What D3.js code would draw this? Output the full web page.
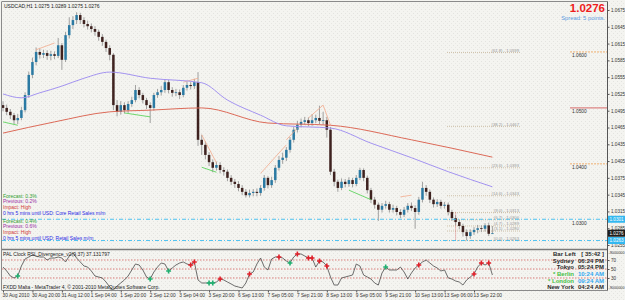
<!DOCTYPE html>
<html>
<head>
<meta charset="utf-8">
<script src="https://d3js.org/d3.v7.min.js"></script>
<style>
  body { margin: 0; background: #f4f4f0; }
  svg text { font-family: "Liberation Sans", Arial, sans-serif; }
</style>
</head>
<body>
<div id="chart"></div>
<script>
// ---- data (USDCAD, 2-hour steps) ----
const chartTitle = "USDCAD,H1  1.0275 1.0289 1.0275 1.0276"
const lastPrice = "1.0276"
const spreadText = "Spread: 5 points."

const timeLabels = ["30 Aug 2010", "30 Aug 20:00", "31 Aug 12:00", "1 Sep 04:00", "1 Sep 20:00",
  "2 Sep 12:00", "3 Sep 04:00", "3 Sep 20:00", "6 Sep 13:00", "7 Sep 05:00", "7 Sep 21:00",
  "8 Sep 13:00", "9 Sep 05:00", "9 Sep 21:00", "10 Sep 13:00", "13 Sep 06:00", "13 Sep 22:00"]
const barsPerLabel = 8

const firstOpen = 1.0505
const closes = [
  1.0500, 1.0493, 1.0487, 1.0478, 1.0482, 1.0496, 1.0523, 1.0559, 1.0582, 1.0600,
  1.0595, 1.0598, 1.0593, 1.0596, 1.0593, 1.0612, 1.0586, 1.0630, 1.0648, 1.0657,
  1.0666, 1.0657, 1.0650, 1.0646, 1.0641, 1.0636, 1.0627, 1.0618, 1.0607, 1.0595,
  1.0505, 1.0493, 1.0505, 1.0496, 1.0507, 1.0514, 1.0532, 1.0523, 1.0514, 1.0505,
  1.0500, 1.0523, 1.0528, 1.0532, 1.0546, 1.0532, 1.0527, 1.0528, 1.0523, 1.0536,
  1.0541, 1.0539, 1.0546, 1.0443, 1.0434, 1.0416, 1.0403, 1.0393, 1.0398, 1.0389,
  1.0386, 1.0375, 1.0368, 1.0364, 1.0357, 1.0350, 1.0344, 1.0348, 1.0350, 1.0348,
  1.0357, 1.0375, 1.0362, 1.0371, 1.0393, 1.0407, 1.0411, 1.0425, 1.0443, 1.0461,
  1.0470, 1.0475, 1.0478, 1.0473, 1.0478, 1.0482, 1.0477, 1.0478, 1.0461, 1.0386,
  1.0368, 1.0357, 1.0368, 1.0364, 1.0371, 1.0364, 1.0375, 1.0389, 1.0375, 1.0353,
  1.0336, 1.0327, 1.0318, 1.0325, 1.0328, 1.0318, 1.0321, 1.0314, 1.0309, 1.0318,
  1.0325, 1.0321, 1.0314, 1.0336, 1.0357, 1.0350, 1.0336, 1.0328, 1.0332, 1.0325,
  1.0327, 1.0314, 1.0303, 1.0296, 1.0289, 1.0278, 1.0271, 1.0278, 1.0282, 1.0285,
  1.0284, 1.0290, 1.0275, 1.0276]
const highs = [
  1.0512, 1.0506, 1.0498, 1.0491, 1.0489, 1.0502, 1.0528, 1.0565, 1.0590, 1.0608,
  1.0606, 1.0604, 1.0603, 1.0602, 1.0601, 1.0625, 1.0616, 1.0636, 1.0662, 1.0664,
  1.0671, 1.0670, 1.0662, 1.0656, 1.0651, 1.0646, 1.0640, 1.0632, 1.0622, 1.0612,
  1.0598, 1.0514, 1.0512, 1.0510, 1.0512, 1.0520, 1.0541, 1.0537, 1.0527, 1.0518,
  1.0510, 1.0527, 1.0534, 1.0539, 1.0550, 1.0550, 1.0537, 1.0534, 1.0533, 1.0541,
  1.0547, 1.0546, 1.0552, 1.0564, 1.0452, 1.0440, 1.0421, 1.0408, 1.0404, 1.0403,
  1.0394, 1.0390, 1.0380, 1.0373, 1.0369, 1.0362, 1.0355, 1.0354, 1.0355, 1.0356,
  1.0362, 1.0380, 1.0378, 1.0377, 1.0398, 1.0414, 1.0420, 1.0430, 1.0448, 1.0466,
  1.0477, 1.0481, 1.0484, 1.0483, 1.0489, 1.0488, 1.0504, 1.0493, 1.0484, 1.0466,
  1.0391, 1.0372, 1.0374, 1.0373, 1.0376, 1.0375, 1.0380, 1.0393, 1.0392, 1.0379,
  1.0357, 1.0341, 1.0331, 1.0330, 1.0334, 1.0332, 1.0327, 1.0325, 1.0319, 1.0323,
  1.0330, 1.0331, 1.0326, 1.0341, 1.0368, 1.0362, 1.0354, 1.0340, 1.0337, 1.0336,
  1.0332, 1.0331, 1.0318, 1.0308, 1.0300, 1.0293, 1.0283, 1.0283, 1.0287, 1.0291,
  1.0290, 1.0294, 1.0295, 1.0289]
const lows = [
  1.0494, 1.0487, 1.0480, 1.0471, 1.0471, 1.0478, 1.0492, 1.0518, 1.0553, 1.0576,
  1.0588, 1.0589, 1.0586, 1.0585, 1.0587, 1.0589, 1.0568, 1.0582, 1.0624, 1.0641,
  1.0650, 1.0650, 1.0644, 1.0640, 1.0635, 1.0629, 1.0620, 1.0611, 1.0600, 1.0585,
  1.0496, 1.0485, 1.0488, 1.0490, 1.0491, 1.0502, 1.0510, 1.0517, 1.0508, 1.0498,
  1.0473, 1.0495, 1.0518, 1.0522, 1.0527, 1.0526, 1.0520, 1.0521, 1.0516, 1.0519,
  1.0531, 1.0533, 1.0534, 1.0432, 1.0416, 1.0408, 1.0396, 1.0385, 1.0388, 1.0383,
  1.0379, 1.0369, 1.0362, 1.0357, 1.0351, 1.0344, 1.0340, 1.0340, 1.0342, 1.0342,
  1.0343, 1.0352, 1.0356, 1.0357, 1.0366, 1.0388, 1.0400, 1.0405, 1.0420, 1.0438,
  1.0456, 1.0465, 1.0470, 1.0467, 1.0468, 1.0473, 1.0471, 1.0470, 1.0447, 1.0380,
  1.0360, 1.0350, 1.0353, 1.0358, 1.0359, 1.0358, 1.0360, 1.0371, 1.0369, 1.0347,
  1.0330, 1.0320, 1.0298, 1.0313, 1.0320, 1.0313, 1.0313, 1.0308, 1.0303, 1.0305,
  1.0313, 1.0316, 1.0284, 1.0309, 1.0331, 1.0343, 1.0330, 1.0322, 1.0323, 1.0320,
  1.0320, 1.0308, 1.0298, 1.0290, 1.0283, 1.0270, 1.0263, 1.0266, 1.0273, 1.0276,
  1.0278, 1.0279, 1.0271, 1.0275]

// moving averages, read at a handful of bars
const maPurpleBars = [0, 5, 10, 16, 22, 29, 40, 54, 61, 70, 77, 89, 100, 111, 121, 133]
const maPurple = [1.0525, 1.0518, 1.0527, 1.0539, 1.0553, 1.0564, 1.0553, 1.0545, 1.0514,
  1.0487, 1.0468, 1.0464, 1.0437, 1.0411, 1.0386, 1.0359]
const maRedBars = [0, 14, 29, 40, 54, 72, 89, 111, 133]
const maRed = [1.0455, 1.0475, 1.0493, 1.0496, 1.0500, 1.0473, 1.0469, 1.0443, 1.0412]

// divergence / zigzag strokes: [bar1, price1, bar2, price2]
const highStrokes = [[9, 1.0604, 14, 1.0616], [49, 1.0546, 53, 1.0553], [54, 1.0452, 58, 1.0402],
  [70, 1.0383, 77, 1.0434], [77, 1.0443, 80, 1.0464], [83, 1.0482, 87, 1.0505],
  [87, 1.0505, 89, 1.0469], [108, 1.0341, 111, 1.0344]]
const lowStrokes = [[0, 1.0475, 4, 1.0469], [33, 1.0491, 40, 1.0484], [54, 1.0394, 58, 1.0385],
  [94, 1.0353, 100, 1.0336]]

// fibonacci levels
const fibNames = ["61.8", "38.2", "23.6", "14.6", "9.0", "6.7", "4.7", "3.1", "0.0"]
const fibPrices = [1.0599, 1.0467, 1.0393, 1.0343, 1.0313, 1.0300, 1.0289, 1.0280, 1.0263]

// horizontal price lines on the right
const roundLevels = [1.0600, 1.0500, 1.0400, 1.0300]
const dayLevels = [1.0301, 1.0263]

const newsLines = [
  ["Forecast: 0.3%", "forecast"], ["Previous: 0.2%", "previous"], ["Impact: High", "impact"],
  ["0 hrs 5 mins until USD: Core Retail Sales m/m", "until"],
  ["Forecast: 0.4%", "forecast"], ["Previous: 0.6%", "previous"], ["Impact: High", "impact"],
  ["0 hrs 5 mins until USD: Retail Sales m/m", "until"]]

// RSI divergence indicator
const rsiTitle = "PAL Clock    RSI_Divergence_v2(9,37) 37.131797"
const rsi = [
  54.4, 45.6, 34.4, 30.0, 34.4, 56.7, 72.2, 76.7, 81.1, 78.9,
  76.7, 76.7, 70.0, 74.4, 74.4, 76.7, 74.4, 65.6, 78.9, 85.6,
  74.4, 65.6, 56.7, 54.4, 45.6, 34.4, 32.2, 30.0, 21.1, 10.0,
  3.3, 12.2, 18.9, 25.6, 34.4, 47.8, 61.1, 58.9, 47.8, 32.2,
  27.8, 43.3, 54.4, 63.3, 61.1, 45.6, 52.2, 58.9, 63.3, 65.6,
  61.1, 58.9, 65.6, 25.6, 18.9, 18.9, 18.9, 18.9, 21.1, 27.8,
  25.6, 21.1, 16.7, 12.2, 10.0, 7.8, 18.9, 38.9, 43.3, 61.1,
  74.4, 54.4, 47.8, 72.2, 76.7, 76.7, 74.4, 67.8, 63.3, 76.7,
  83.3, 83.3, 78.9, 74.4, 74.4, 54.4, 67.8, 65.6, 56.7, 32.2,
  14.4, 14.4, 30.0, 32.2, 34.4, 36.7, 61.1, 56.7, 36.7, 32.2,
  27.8, 18.9, 14.4, 41.1, 54.4, 47.8, 47.8, 47.8, 54.4, 43.3,
  27.8, 41.1, 52.2, 58.9, 65.6, 70.0, 63.3, 56.7, 52.2, 45.6,
  47.8, 30.0, 27.8, 23.3, 21.1, 14.4, 25.6, 32.2, 38.9, 54.4,
  63.3, 58.9, 63.3, 36.7]
const rsiLevels = [70, 50, 30]
const rsiScaleText = "-9000000"
const rsiTops = [51, 52, 59, 67, 75, 80, 83, 84, 86, 88, 113, 128, 130, 132]
const rsiBottoms = [4, 40, 45, 56, 57, 78, 104]

const clockNames = ["Bar Left", "Sydney", "Tokyo", "* Berlin", "* London", "New York"]
const clockTimes = ["[ 35:42 ]", "06:24 PM", "05:24 PM", "10:24 AM", "09:24 AM", "04:24 AM"]
const footer = "FXDD Malta - MetaTrader 4, \u00a9 2001-2010 MetaQuotes Software Corp."

// ---- layout ----
const W = 625, H = 300
const axisX = 607.5
const mainTop = 2, mainBottom = 249.5, indBottom = 290.5

const svg = d3.select("#chart").append("svg").attr("width", W).attr("height", H)
const defs = svg.append("defs")
const pat = defs.append("pattern").attr("id", "dots").attr("width", 4).attr("height", 4)
                .attr("patternUnits", "userSpaceOnUse")
pat.append("rect").attr("width", 4).attr("height", 4).attr("fill", "#f4f4f0")
pat.append("rect").attr("x", 1).attr("y", 1).attr("width", 1).attr("height", 1).attr("fill", "#e3e3df")
pat.append("rect").attr("x", 3).attr("y", 3).attr("width", 1).attr("height", 1).attr("fill", "#e7e7e3")
svg.append("rect").attr("width", W).attr("height", H).attr("fill", "url(#dots)")

defs.append("clipPath").attr("id", "clipMain").append("rect")
    .attr("x", 2).attr("y", mainTop).attr("width", axisX - 2).attr("height", mainBottom - mainTop)
defs.append("clipPath").attr("id", "clipInd").append("rect")
    .attr("x", 2).attr("y", mainBottom + 1).attr("width", axisX - 2).attr("height", indBottom - mainBottom - 1)

const x = d3.scaleLinear().domain([0, 133]).range([3, 492.4])
const y = d3.scaleLinear().domain([1.0255, 1.0675]).range([245, 10])
const yR = d3.scaleLinear().domain([0, 100]).range([291.5, 246.5])

const main = svg.append("g").attr("clip-path", "url(#clipMain)")

// fibonacci levels
const fibX0 = 447, fibX1 = 520
fibPrices.forEach((p, k) => {
    main.append("line").attr("x1", fibX0).attr("x2", fibX1).attr("y1", y(p)).attr("y2", y(p))
        .attr("stroke", "#c8b89a").attr("stroke-width", 0.8).attr("stroke-dasharray", "1,1")
    main.append("text").attr("x", fibX1 - 1).attr("y", y(p) - 0.8).attr("text-anchor", "end")
        .attr("font-size", 4.2).attr("fill", "#9a9a9a")
        .text("(" + fibNames[k] + ") - " + p.toFixed(4))
})
main.append("line").attr("x1", x(123)).attr("x2", x(123)).attr("y1", y(fibPrices[4])).attr("y2", y(1.0263))
    .attr("stroke", "#d05050").attr("stroke-width", 0.7).attr("stroke-dasharray", "1,1")

// round number lines at the right edge
const roundStyle = ["#f0a050", "#d04848", "#f0a050", "none"]
roundLevels.forEach((p, k) => {
    main.append("line").attr("x1", 570).attr("x2", axisX).attr("y1", y(p)).attr("y2", y(p))
        .attr("stroke", roundStyle[k]).attr("stroke-width", 0.8)
        .attr("stroke-dasharray", k === 1 ? null : "2,1")
    main.append("text").attr("x", 572).attr("y", y(p) + 5).attr("font-size", 4.8).attr("fill", "#333")
        .text(p.toFixed(4))
})

// candles
const bars = closes.map((c, i) => ({ i, o: i === 0 ? firstOpen : closes[i - 1], h: highs[i], l: lows[i], c }))
const candle = main.append("g").selectAll("g").data(bars).join("g")
candle.append("line").attr("x1", d => x(d.i)).attr("x2", d => x(d.i))
      .attr("y1", d => y(d.h)).attr("y2", d => y(d.l))
      .attr("stroke", "#8c8c8c").attr("stroke-width", 0.8)
candle.append("rect").attr("x", d => x(d.i) - 1.25).attr("width", 2.5)
      .attr("y", d => y(Math.max(d.o, d.c)))
      .attr("height", d => Math.max(0.8, Math.abs(y(d.o) - y(d.c))))
      .attr("fill", d => d.c >= d.o ? "#2b7aa3" : "#3e221f")

// strokes on highs / lows
const strokes = (data, color) => main.append("g").selectAll("line").data(data).join("line")
    .attr("x1", d => x(d[0])).attr("y1", d => y(d[1])).attr("x2", d => x(d[2])).attr("y2", d => y(d[3]))
    .attr("stroke", color).attr("stroke-width", 0.8)
strokes(highStrokes, "#f2a98c")
strokes(lowStrokes, "#4cd04c")

// moving averages
const maLine = d3.line().x(d => x(d[0])).y(d => y(d[1])).curve(d3.curveMonotoneX)
main.append("path").attr("d", maLine(maRedBars.map((b, k) => [b, maRed[k]])))
    .attr("fill", "none").attr("stroke", "#dc6a58").attr("stroke-width", 1)
main.append("path").attr("d", maLine(maPurpleBars.map((b, k) => [b, maPurple[k]])))
    .attr("fill", "none").attr("stroke", "#a393f0").attr("stroke-width", 1)

// day high / low lines
dayLevels.forEach(p => {
    main.append("line").attr("x1", 2).attr("x2", axisX).attr("y1", y(p)).attr("y2", y(p))
        .attr("stroke", "#3cbcf0").attr("stroke-width", 0.9).attr("stroke-dasharray", "4,2,1,2")
})

// news text
const newsColor = { forecast: "#2f9e2f", previous: "#9a2fa6", impact: "#d23a3a", until: "#2a2ae6" }
const newsY = [197.5, 203.2, 208.8, 214.5, 222.5, 228.2, 233.8, 239.5]
newsLines.forEach((d, k) => {
    svg.append("text").attr("x", 3).attr("y", newsY[k]).attr("font-size", 5)
       .attr("fill", newsColor[d[1]]).text(d[0])
})

svg.append("text").attr("x", 4).attr("y", 8).attr("font-size", 5).attr("fill", "#222").text(chartTitle)
svg.append("text").attr("x", 605).attr("y", 12).attr("text-anchor", "end").attr("font-size", 11.5)
   .attr("font-weight", "bold").attr("fill", "#ee1c1c").text(lastPrice)
svg.append("text").attr("x", 605).attr("y", 20).attr("text-anchor", "end").attr("font-size", 5.8)
   .attr("fill", "#5a9ae0").text(spreadText)

// ---- indicator panel ----
const ind = svg.append("g").attr("clip-path", "url(#clipInd)")
rsiLevels.forEach(v => {
    ind.append("line").attr("x1", 2).attr("x2", axisX).attr("y1", yR(v)).attr("y2", yR(v))
       .attr("stroke", "#d04a4a").attr("stroke-width", 0.7).attr("stroke-dasharray", "1.5,1.5")
})
ind.append("path").datum(rsi)
   .attr("d", d3.line().x((d, i) => x(i)).y(d => yR(d)))
   .attr("fill", "none").attr("stroke", "#4a4a4a").attr("stroke-width", 0.8)
const cross = d3.symbol(d3.symbolCross).size(13)
ind.append("g").selectAll("path").data(rsiTops).join("path")
   .attr("d", cross).attr("transform", d => "translate(" + x(d) + "," + yR(rsi[d]) + ")")
   .attr("fill", "#e0202a")
ind.append("g").selectAll("path").data(rsiBottoms).join("path")
   .attr("d", cross).attr("transform", d => "translate(" + x(d) + "," + yR(rsi[d]) + ")")
   .attr("fill", "#1fb070")

svg.append("text").attr("x", 3).attr("y", 256).attr("font-size", 5).attr("fill", "#222").text(rsiTitle)
svg.append("text").attr("x", 3).attr("y", 289).attr("font-size", 5).attr("fill", "#222").text(footer)

const clockY = [256, 262.8, 269.4, 276, 282.6, 289.2]
clockNames.forEach((n, k) => {
    const green = n.startsWith("*")
    svg.append("text").attr("x", k === 0 ? 553 : 574).attr("y", clockY[k])
       .attr("text-anchor", k === 0 ? "start" : "end").attr("font-size", 6).attr("font-weight", "bold")
       .attr("fill", green ? "#45c045" : "#2a2a2a").text(n)
    svg.append("text").attr("x", 604).attr("y", clockY[k]).attr("text-anchor", "end")
       .attr("font-size", 6).attr("font-weight", "bold")
       .attr("fill", green ? "#33a8f0" : "#2a2a2a").text(clockTimes[k])
})

// ---- frame and axes ----
const frame = "#8a8a8a"
svg.append("line").attr("x1", 2).attr("x2", axisX).attr("y1", 1.5).attr("y2", 1.5).attr("stroke", frame)
svg.append("line").attr("x1", 1.5).attr("x2", 1.5).attr("y1", 1.5).attr("y2", indBottom).attr("stroke", frame)
svg.append("line").attr("x1", 2).attr("x2", axisX).attr("y1", mainBottom).attr("y2", mainBottom)
   .attr("stroke", "#7a7a7a").attr("stroke-width", 1.5)
svg.append("line").attr("x1", 2).attr("x2", axisX).attr("y1", indBottom).attr("y2", indBottom).attr("stroke", frame)
svg.append("line").attr("x1", axisX).attr("x2", axisX).attr("y1", 1.5).attr("y2", indBottom).attr("stroke", "#555")

const yTicks = d3.range(1.0255, 1.06751, 0.003)
const yAxis = svg.append("g").attr("transform", "translate(" + axisX + ",0)")
   .call(d3.axisRight(y).tickValues(yTicks).tickSize(2).tickPadding(1.5).tickFormat(d3.format(".4f")))
yAxis.select(".domain").remove()
yAxis.selectAll("text").attr("font-size", 4.6).attr("fill", "#333").attr("font-family", "Liberation Sans, Arial")
yAxis.selectAll("line").attr("stroke", "#555")

const boxes = [[dayLevels[0], "#33b8f0"], [1.0276, "#1e1e1e"], [dayLevels[1], "#33b8f0"]]
boxes.forEach(b => {
    svg.append("rect").attr("x", axisX + 0.5).attr("y", y(b[0]) - 3.5).attr("width", 17).attr("height", 7)
       .attr("fill", b[1])
    svg.append("text").attr("x", axisX + 2).attr("y", y(b[0]) + 1.8).attr("font-size", 4.6)
       .attr("fill", "#fff").text(b[0].toFixed(4))
})

const rAxis = svg.append("g").attr("transform", "translate(" + axisX + ",0)")
   .call(d3.axisRight(yR).tickValues(rsiLevels).tickSize(2).tickPadding(1.5))
rAxis.select(".domain").remove()
rAxis.selectAll("text").attr("font-size", 4.6).attr("fill", "#333").attr("font-family", "Liberation Sans, Arial")
rAxis.selectAll("line").attr("stroke", "#555")
;[254, 289].forEach(ty => {
    svg.append("text").attr("x", axisX + 1).attr("y", ty).attr("font-size", 4.2).attr("fill", "#333")
       .attr("textLength", 16).attr("lengthAdjust", "spacingAndGlyphs").text(rsiScaleText)
})

const labelBars = timeLabels.map((t, k) => k * barsPerLabel)
const xAxis = svg.append("g").attr("transform", "translate(0," + indBottom + ")")
   .call(d3.axisBottom(x).tickValues(labelBars).tickSize(2).tickPadding(1.5)
          .tickFormat((d, k) => timeLabels[k]))
xAxis.select(".domain").remove()
xAxis.selectAll("text").attr("text-anchor", "start").attr("dx", -1).attr("font-size", 4.8)
     .attr("fill", "#333").attr("font-family", "Liberation Sans, Arial")
xAxis.selectAll("line").attr("stroke", "#555")
</script>
</body>
</html>
